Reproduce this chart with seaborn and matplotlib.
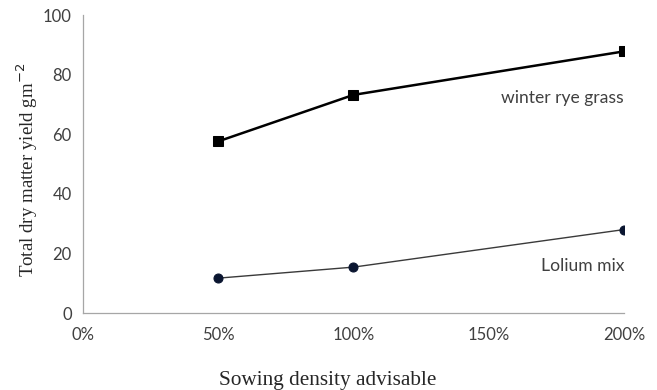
import numpy as np
import matplotlib
matplotlib.use('Agg')
import matplotlib.pyplot as plt
import pandas as pd
import seaborn as sns

# data
density = [50, 100, 200]
winter_rye = [57.6, 73.2, 87.8]
lolium_mix = [11.7, 15.4, 28.0]
x_ticks = [0, 50, 100, 150, 200]
x_tick_labels = ['0%', '50%', '100%', '150%', '200%']
y_ticks = [0, 20, 40, 60, 80, 100]

df = pd.DataFrame({'density': density,
                   'winter rye grass': winter_rye,
                   'Lolium mix': lolium_mix})

sns.set_style('white')

fig = plt.figure(figsize=(6.57, 3.9), dpi=100)
ax = fig.add_axes([0.1263, 0.1974, 0.8235, 0.7641])

# winter rye grass: black line with squares
sns.lineplot(data=df, x='density', y='winter rye grass', ax=ax,
             color='black', linewidth=1.8, marker='s', markersize=7,
             markeredgecolor='black', markerfacecolor='black')

# Lolium mix: thin grey line with dark circles
sns.lineplot(data=df, x='density', y='Lolium mix', ax=ax,
             color='#3a3a3a', linewidth=1.0, marker='o', markersize=6.5,
             markeredgecolor='#0a1530', markerfacecolor='#0a1530')

ax.set_xlim(0, 200)
ax.set_ylim(0, 100)
ax.set_xticks(x_ticks)
ax.set_xticklabels(x_tick_labels)
ax.set_yticks(y_ticks)

for lab in ax.get_xticklabels() + ax.get_yticklabels():
    lab.set_fontfamily('Lato')
    lab.set_fontsize(12)
    lab.set_color('#404040')

ax.tick_params(axis='both', which='major', length=4, width=0.8,
               color='#a6a6a6', direction='out')
ax.tick_params(axis='x', pad=6)
ax.tick_params(axis='y', pad=4)

for side in ['top', 'right']:
    ax.spines[side].set_visible(False)
for side in ['left', 'bottom']:
    ax.spines[side].set_color('#a6a6a6')
    ax.spines[side].set_linewidth(0.9)

ax.set_xlabel('Sowing density advisable', family='Liberation Serif',
              fontsize=15.3)
ax.xaxis.set_label_coords(0.453, -0.195)
ax.set_ylabel('Total dry matter yield gm$^{-2}$', family='Liberation Serif',
              fontsize=13.6)
ax.yaxis.set_label_coords(-0.08, 0.48)

# series labels written on the plot
ax.text(200, 72.2, 'winter rye grass', ha='right', va='center',
        fontsize=12.6, family='Lato', color='#404040')
ax.text(200, 15.7, 'Lolium mix', ha='right', va='center',
        fontsize=12.6, family='Lato', color='#404040')

fig.savefig('out.png', dpi=100)
